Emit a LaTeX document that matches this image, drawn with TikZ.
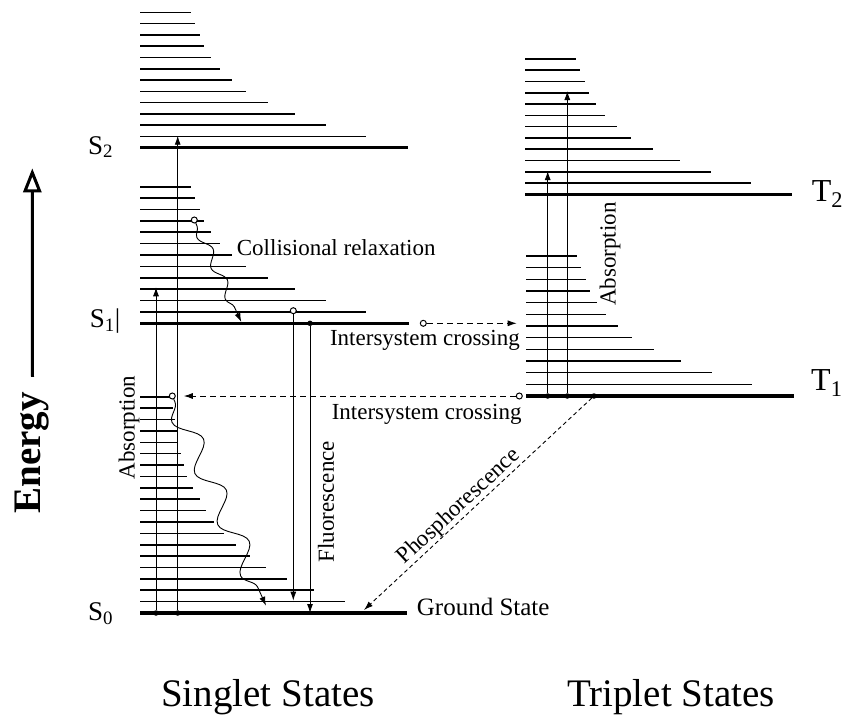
\documentclass[tikz,border=0pt]{standalone}
\usepackage{fontspec}
\setmainfont{Liberation Serif}
\usetikzlibrary{arrows.meta,decorations.pathmorphing}

\tikzset{
  vib/.style={line width=1.6pt},
  elec/.style={line width=3.5pt},
  trans/.style={line width=0.9pt,-{Latex[length=9pt,width=6pt]}},
  isc/.style={trans,dash pattern=on 6pt off 4pt},
  fdot/.style={circle,fill,inner sep=0pt,minimum size=5.5pt},
  odot/.style={circle,draw,fill=white,line width=1pt,inner sep=0pt,minimum size=6pt},
  lab/.style={font=\fontsize{23}{27}\selectfont,inner sep=0pt},
  statelab/.style={font=\fontsize{27}{32}\selectfont,inner sep=0pt,anchor=base west},
}

\begin{document}
\begin{tikzpicture}[x=1pt,y=-1pt]
\useasboundingbox (0,0) rectangle (843,720);
% vibrational levels above S2, S1, T2, T1
\foreach \i/\l in {1/226,2/186,3/155,4/128,5/106,6/92,7/80,8/71,9/64,10/60,11/55,12/51}{
  \draw[vib] (140,147.7-\i*11.28) -- ++(\l,0);
  \draw[vib] (140,323.3-\i*11.38) -- ++(\l,0);
  \draw[vib] (525,194.3-\i*11.28) -- ++(\l,0);
  \draw[vib] (526,396-\i*11.67) -- ++(\l,0);
}
% vibrational levels above S0
\foreach \i/\l in {1/205,2/174,3/147,4/126,5/110,6/96,7/84,8/74,9/66,10/60,11/53,12/47,13/44,14/41,15/37,16/37,17/35,18/33,19/32}
  \draw[vib] (140,613-\i*11.38) -- ++(\l,0);
% electronic states
\draw[elec] (140,147.7) -- (408,147.7); % S2
\draw[elec] (140,323.3) -- (409,323.3); % S1
\draw[elec] (140,613) -- (407,613); % S0
\draw[elec] (525,194.3) -- (792,194.3); % T2
\draw[elec] (526,396) -- (794,396); % T1
\node[statelab] (s2) at (88,154) {S\textsubscript{2}};
\node[statelab] (s1) at (89.7,327.5) {S\textsubscript{1}|};
\node[statelab] (s0) at (88,620) {S\textsubscript{0}};
\node[statelab,font=\fontsize{32}{36}\selectfont] (t2) at (811.7,201.7) {T\textsubscript{2}};
\node[statelab,font=\fontsize{32}{36}\selectfont] (t1) at (811,390) {T\textsubscript{1}};

% energy axis
\node[rotate=90,font=\fontsize{39}{45}\selectfont\bfseries] (energy) at (32.5,453) {Energy};
\coordinate (etop) at (32.3,168.3);
\draw[line width=3pt,-{Triangle[open,length=24pt,width=18pt]}] ([yshift=12pt]energy.east) -- (etop);

% absorption in the singlet states
\node[fdot] (a1) at (156,613) {};
\node[fdot] (a2) at (177.7,613) {};
\coordinate (a1top) at (156,287.3);
\coordinate (a2top) at (177.7,135.7);
\draw[trans] (a1) -- (a1top);
\draw[trans] (a2) -- (a2top);
\node[lab,rotate=90] (abs1) at (129,427.5) {Absorption};

% collisional relaxation
\node[odot] (cr) at (194.3,220) {};
\coordinate (crend) at (241.3,322);
\draw[trans,decorate,decoration={snake,amplitude=-5pt,segment length=34pt,pre length=3pt,post length=9pt}] (cr) -- (crend);
\node[lab,anchor=base west] (crlab) at (236.7,255) {Collisional relaxation};

% fluorescence
\node[odot] (f1) at (293.3,310.7) {};
\node[fdot] (f2) at (310,323.3) {};
\coordinate (f1end) at (293.3,600.7);
\coordinate (f2end) at (310,613);
\draw[trans] (f1) -- (f1end);
\draw[trans] (f2) -- (f2end);
\node[lab,rotate=90] (flab) at (326,501.7) {Fluorescence};

% intersystem crossing S1 -> T1
\node[odot] (isc1) at (423.3,323.3) {};
\coordinate (isc1end) at (516.7,323.3);
\draw[isc] (isc1) -- (isc1end);
\node[lab,anchor=base east] (isclab1) at (520,345) {Intersystem crossing};

% intersystem crossing T1 -> S0
\node[odot] (isc2) at (519.3,396) {};
\node[odot] (vr) at (172.3,396) {};
\draw[isc,shorten >=8pt] (isc2) -- (vr);
\node[lab,anchor=base east] (isclab2) at (521.7,419.3) {Intersystem crossing};
\coordinate (vrend) at (266,605.7);
\draw[trans,decorate,decoration={snake,amplitude=-11pt,segment length=56pt,pre length=3pt,post length=10pt}] (vr) -- (vrend);

% phosphorescence
\node[fdot] (ph) at (594,396) {};
\coordinate (phend) at (364,610);
\draw[trans,dash pattern=on 4pt off 3pt] (ph) -- node[lab,sloped,above,pos=0.55] (phlab) {Phosphorescence} (phend);
\node[lab,anchor=base west,font=\fontsize{25}{29}\selectfont] (gs) at (416.7,615) {Ground State};

% absorption in the triplet states
\node[fdot] (ta1) at (547.7,396) {};
\node[fdot] (ta2) at (567.3,396) {};
\coordinate (ta1top) at (547.7,171);
\coordinate (ta2top) at (567.3,91);
\draw[trans] (ta1) -- (ta1top);
\draw[trans] (ta2) -- (ta2top);
\node[lab,rotate=90] (abs2) at (610,254) {Absorption};

\node[font=\fontsize{39}{45}\selectfont,anchor=base] (sing) at (268,706) {Singlet States};
\node[font=\fontsize{39}{45}\selectfont,anchor=base] (trip) at (671,706) {Triplet States};
\end{tikzpicture}
\end{document}
